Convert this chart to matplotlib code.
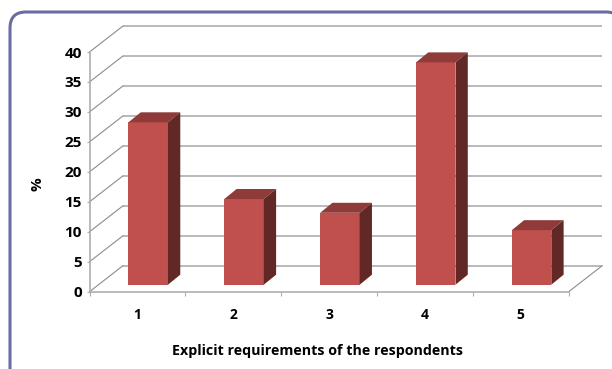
import numpy as np
import matplotlib
matplotlib.use('Agg')
import matplotlib.pyplot as plt
from matplotlib.patches import FancyBboxPatch, Polygon

plt.rcParams['font.family'] = ['Open Sans', 'DejaVu Sans']

categories = [1, 2, 3, 4, 5]
values = [27.1, 14.3, 12.0, 37.1, 9.1]
y_ticks = [0, 5, 10, 15, 20, 25, 30, 35, 40]
x_label = 'Explicit requirements of the respondents'
y_label = '%'

BAR_FRONT = '#c0504d'
BAR_TOP = '#8e3b39'
BAR_SIDE = '#622826'
FRAME = '#6b6ca3'
GRID = '#aeaeae'
DIAG = '#8c8c8c'

W, H = 612, 369
fig = plt.figure(figsize=(W / 100, H / 100), dpi=100, facecolor='white')

# rounded border, runs off the right and bottom of the figure
bg = fig.add_axes([0, 0, 1, 1])
bg.set_xlim(0, W)
bg.set_ylim(H, 0)
bg.axis('off')
bg.add_patch(FancyBboxPatch((26, 28), 580, 340, boxstyle='round,pad=16,rounding_size=16',
                            fc='white', ec=FRAME, lw=2.2, clip_on=True))

# front plane of the fake 3d box
left, right, bottom, top = 89.5, 568.7, 291.7, 52.0
ax = fig.add_axes([left / W, 1 - bottom / H, (right - left) / W, (bottom - top) / H])
ax.set_xlim(0.5, 5.5)
ax.set_ylim(0, 40)
ax.patch.set_alpha(0)

# pixel sizes turned into data units
ux = (right - left) / 5
uy = (bottom - top) / 40
wall_dx, wall_dy = 33.5 / ux, 26 / uy
bar_dx, bar_dy = 12.3 / ux, 10 / uy
bar_width = 39.5 / ux
bar_shift = 10.8 / ux
bar_base = 7 / uy

# back wall lines and the diagonals coming out to the value axis
for v in y_ticks:
    ax.plot([0.5 + wall_dx, 5.5 + wall_dx], [v + wall_dy, v + wall_dy], color=GRID, lw=1.2,
            clip_on=False, zorder=1, solid_capstyle='butt')
    ax.plot([0.5, 0.5 + wall_dx], [v, v + wall_dy], color=DIAG, lw=0.8, clip_on=False, zorder=1)
ax.plot([5.5, 5.5 + wall_dx], [0, wall_dy], color=DIAG, lw=0.8, clip_on=False, zorder=1)

# bars: front face, then top and side
xs = np.array(categories) + bar_shift
ax.bar(xs, values, width=bar_width, bottom=bar_base, color=BAR_FRONT, zorder=3, clip_on=False)
for x, v in zip(xs, values):
    x0, x1 = x - bar_width / 2, x + bar_width / 2
    y1 = v + bar_base
    ax.add_patch(Polygon([(x0, y1), (x1, y1), (x1 + bar_dx, y1 + bar_dy), (x0 + bar_dx, y1 + bar_dy)],
                         fc=BAR_TOP, ec='none', zorder=3, clip_on=False))
    ax.add_patch(Polygon([(x1, bar_base), (x1 + bar_dx, bar_base + bar_dy), (x1 + bar_dx, y1 + bar_dy), (x1, y1)],
                         fc=BAR_SIDE, ec='none', zorder=3, clip_on=False))

for s in ['top', 'right']:
    ax.spines[s].set_visible(False)
for s in ['left', 'bottom']:
    ax.spines[s].set_color(GRID)
    ax.spines[s].set_linewidth(1.2)

ax.set_yticks(y_ticks)
ax.set_xticks(categories)
ax.set_xticks(np.arange(0.5, 6), minor=True)
ax.tick_params(axis='y', length=2.5, width=0.8, color=GRID, pad=3, labelsize=11)
ax.tick_params(axis='x', which='major', length=0, pad=12, labelsize=10)
ax.tick_params(axis='x', which='minor', length=3, width=0.8, color=GRID)
for lab in ax.get_xticklabels() + ax.get_yticklabels():
    lab.set_fontweight('bold')
    lab.set_color('black')

fig.text(318 / W, 1 - 351 / H, x_label, ha='center', va='center', fontsize=10.3, fontweight='bold', color='black')
fig.text(37 / W, 1 - 184 / H, y_label, ha='center', va='center', rotation=90, fontsize=11, fontweight='bold', color='black')

fig.savefig('out.png', dpi=100)
